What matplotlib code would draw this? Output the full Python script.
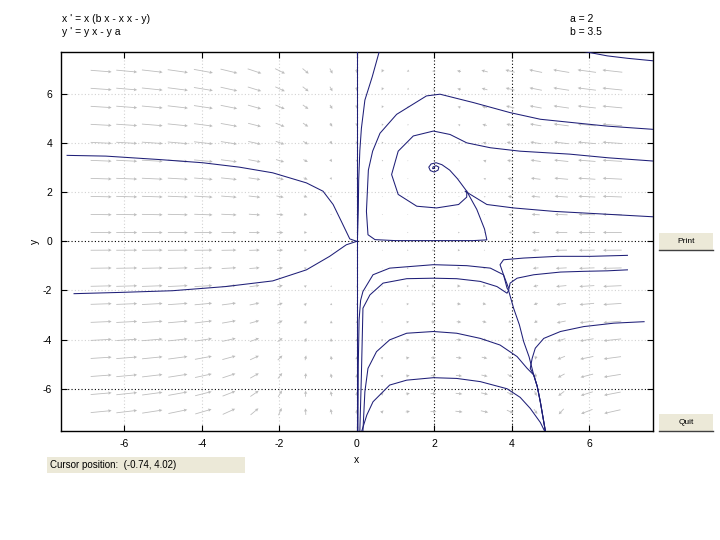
import matplotlib.pyplot as plt
import numpy as np
from matplotlib.patches import Rectangle

# parameters shown on the chart
a = 2
b = 3.5

xlim = (-7.65, 7.65)
ylim = (-7.72, 7.72)
ticks = [-6, -4, -2, 0, 2, 4, 6]

# direction field sample points
arrow_cols = [-6.6, -5.94, -5.28, -4.62, -3.96, -3.3, -2.64, -1.98, -1.32, -0.66, 0.0,
              0.66, 1.32, 1.98, 2.64, 3.3, 3.96, 4.62, 5.28, 5.94, 6.6]
arrow_rows = [-6.93, -6.2, -5.47, -4.74, -4.01, -3.28, -2.55, -1.82, -1.09, -0.36,
              0.36, 1.09, 1.82, 2.55, 3.28, 4.01, 4.74, 5.47, 6.2, 6.93]

# solution curves
left_up_x = [-7.48, -6.48, -5.1, -3.98, -3.03, -2.17, -1.3, -0.87, -0.61, -0.4, -0.18, 0.0]
left_up_y = [3.5, 3.47, 3.33, 3.2, 3.02, 2.79, 2.38, 2.04, 1.5, 0.82, 0.1, 0.0]

left_low_x = [-7.3, -6.14, -4.76, -3.38, -2.17, -1.3, -0.7, -0.27, 0.0]
left_low_y = [-2.13, -2.08, -2.01, -1.84, -1.61, -1.16, -0.61, -0.14, 0.0]

yaxis_up_x = [0.0, 0.0]
yaxis_up_y = [7.72, 0.0]
yaxis_low_x = [0.0, 0.0]
yaxis_low_y = [-7.72, 0.0]

near_axis_x = [0.58, 0.4, 0.21, 0.12, 0.08, 0.05, 0.04, 0.02]
near_axis_y = [7.72, 6.7, 5.75, 4.6, 3.7, 2.5, 1.27, 0.2]

big_x = [7.65, 6.47, 5.6, 4.74, 3.96, 3.01, 2.15, 1.8, 1.03, 0.6, 0.41, 0.3, 0.25, 0.29,
         0.47, 1.0, 2.0, 3.0, 3.36, 3.3, 3.1, 2.84, 2.6, 2.4, 2.2, 2.05, 1.92, 1.86, 1.9,
         2.0, 2.1, 2.12, 2.05, 1.97, 1.96, 2.01]
big_y = [4.56, 4.69, 4.83, 4.97, 5.24, 5.65, 5.99, 5.92, 5.17, 4.4, 3.67, 2.9, 1.22, 0.27,
         0.07, 0.03, 0.03, 0.03, 0.06, 0.5, 1.3, 2.04, 2.55, 2.9, 3.12, 3.2, 3.15, 3.02, 2.88,
         2.82, 2.9, 3.02, 3.08, 3.03, 2.96, 2.97]

loop_x = [7.65, 6.5, 5.5, 4.22, 3.45, 2.84, 2.41, 1.98, 1.46, 1.07, 0.9, 1.07, 1.55, 2.06,
          2.63, 2.84, 2.84]
loop_y = [3.27, 3.4, 3.55, 3.67, 3.81, 4.01, 4.35, 4.49, 4.29, 3.67, 2.72, 1.91, 1.43, 1.36,
          1.5, 1.8, 2.04]

mid_x = [7.65, 6.5, 5.09, 4.05, 3.36, 2.8]
mid_y = [1.0, 1.1, 1.22, 1.36, 1.5, 2.04]

top_x = [5.9, 6.47, 7.0, 7.65]
top_y = [7.72, 7.55, 7.45, 7.35]

steep_x = [3.92, 4.05, 4.2, 4.31, 4.45, 4.57, 4.66, 4.74, 4.87]
steep_y = [-2.0, -2.72, -3.4, -4.08, -4.7, -5.44, -5.9, -6.53, -7.72]

c1_x = [0.03, 0.04, 0.06, 0.1, 0.16, 0.42, 0.85, 1.98, 2.84, 3.45, 3.79, 3.92]
c1_y = [-7.72, -5.0, -3.2, -2.4, -2.04, -1.36, -1.09, -0.95, -0.99, -1.09, -1.36, -1.9]

c2_x = [0.08, 0.12, 0.16, 0.34, 0.68, 1.29, 1.98, 2.58, 3.19, 3.62, 3.88, 3.92]
c2_y = [-7.72, -5.44, -2.72, -2.18, -1.7, -1.52, -1.5, -1.52, -1.63, -1.84, -2.11, -2.0]

c3_x = [0.16, 0.21, 0.29, 0.51, 0.85, 1.29, 1.98, 2.58, 3.19, 3.70, 4.14, 4.40, 4.57, 4.66, 4.74, 4.87]
c3_y = [-7.72, -6.12, -5.17, -4.49, -4.01, -3.74, -3.67, -3.74, -3.95, -4.22, -4.69, -5.17,
        -5.44, -5.9, -6.53, -7.72]

c4_x = [0.13, 0.26, 0.42, 0.85, 1.29, 1.98, 2.58, 3.19, 3.88, 4.22, 4.48, 4.74, 4.85]
c4_y = [-7.72, -7.07, -6.53, -5.85, -5.65, -5.55, -5.58, -5.71, -6.0, -6.35, -6.8, -7.37, -7.72]

r1_x = [6.99, 6.04, 5.18, 4.31, 3.79, 3.7, 3.79, 3.88, 3.92]
r1_y = [-0.57, -0.61, -0.61, -0.68, -0.75, -0.95, -1.36, -1.9, -2.0]

r2_x = [6.99, 6.47, 5.87, 5.26, 4.57, 4.14, 3.96, 3.92]
r2_y = [-1.16, -1.2, -1.22, -1.25, -1.36, -1.5, -1.7, -2.0]

r3_x = [7.42, 6.64, 5.86, 5.26, 4.83, 4.61, 4.53, 4.48, 4.57, 4.66, 4.74, 4.87]
r3_y = [-3.27, -3.33, -3.47, -3.67, -3.95, -4.35, -4.76, -5.17, -5.44, -5.9, -6.53, -7.72]

curves = [(left_up_x, left_up_y), (left_low_x, left_low_y), (yaxis_up_x, yaxis_up_y),
          (yaxis_low_x, yaxis_low_y), (near_axis_x, near_axis_y), (big_x, big_y),
          (loop_x, loop_y), (mid_x, mid_y), (top_x, top_y), (steep_x, steep_y),
          (c1_x, c1_y), (c2_x, c2_y), (c3_x, c3_y), (c4_x, c4_y),
          (r1_x, r1_y), (r2_x, r2_y), (r3_x, r3_y)]

dark_grid_x = [0, 2, 4]
dark_grid_y = [0, -6]
faint_grid_x = [-6, -4, -2, 6]
faint_grid_y = [-4, -2, 2, 4, 6]

plt.rcParams['font.family'] = ['Liberation Sans', 'DejaVu Sans']
plt.rcParams['axes.unicode_minus'] = False

fig = plt.figure(figsize=(7.2, 5.4), dpi=100)
ax = fig.add_axes([60.5 / 720, 1 - 431 / 540, 592.5 / 720, 379.3 / 540])
ax.set_xlim(*xlim)
ax.set_ylim(*ylim)

# grid
for gx in faint_grid_x:
    ax.axvline(gx, color='#d2d2d2', lw=0.8, ls=(0, (1, 2)), zorder=1)
for gy in faint_grid_y:
    ax.axhline(gy, color='#d2d2d2', lw=0.8, ls=(0, (1, 2)), zorder=1)
for gx in dark_grid_x:
    ax.axvline(gx, color='black', lw=0.8, ls=(0, (1, 2)), zorder=1)
for gy in dark_grid_y:
    ax.axhline(gy, color='black', lw=0.8, ls=(0, (1, 2)), zorder=1)

# vector field (light gray arrows)
X, Y = np.meshgrid(arrow_cols, arrow_rows)
U = X * (b * X - X * X - Y)
V = Y * X - Y * a
ppx = 592.5 / (xlim[1] - xlim[0])
ppy = 379.3 / (ylim[1] - ylim[0])
PU, PV = U * ppx, V * ppy
n = np.hypot(PU, PV)
n[n == 0] = 1
mag = np.hypot(U, V)
lp = 21 * (1 - np.exp(-mag / 60))
ax.quiver(X, Y, PU / n * lp / ppx, PV / n * lp / ppy, angles='xy', scale_units='xy',
          scale=1, pivot='mid', color='#bdbdbd', width=0.0014, headwidth=4,
          headlength=4, headaxislength=3.5, zorder=2)

for cx, cy in curves:
    ax.plot(cx, cy, color='#1f1f78', lw=0.75, zorder=3)

ax.set_xticks(ticks)
ax.set_yticks(ticks)
ax.tick_params(direction='in', length=4, labelsize=7.5, top=True, right=True,
               labeltop=False, labelright=False, pad=6)
for s in ax.spines.values():
    s.set_linewidth(1.0)
ax.set_xlabel('x', fontsize=7.5, labelpad=4)
ax.set_ylabel('y', fontsize=7.5, labelpad=2)

# header texts
fig.text(62 / 720, 1 - 19 / 540, "x ' = x (b x - x x - y)", fontsize=7.5, va='center')
fig.text(62 / 720, 1 - 32 / 540, "y ' = y x - y a", fontsize=7.5, va='center')
fig.text(570 / 720, 1 - 19 / 540, "a = 2", fontsize=7.5, va='center')
fig.text(570 / 720, 1 - 32 / 540, "b = 3.5", fontsize=7.5, va='center')

# buttons and status box
for y0, label in [(250, 'Print'), (431, 'Quit')]:
    fig.patches.append(Rectangle((659 / 720, 1 - y0 / 540), 54 / 720, 17 / 540,
                                 transform=fig.transFigure, facecolor='#ece9d8',
                                 edgecolor='none'))
    fig.lines.append(plt.Line2D([659 / 720, 713 / 720], [1 - y0 / 540, 1 - y0 / 540],
                                transform=fig.transFigure, color='#404040', lw=1))
    fig.text(686 / 720, 1 - (y0 - 8.5) / 540, label, fontsize=6, ha='center', va='center')

fig.patches.append(Rectangle((47 / 720, 1 - 473 / 540), 198 / 720, 16 / 540,
                             transform=fig.transFigure, facecolor='#ece9d8', edgecolor='none'))
fig.text(50 / 720, 1 - 465 / 540, "Cursor position:  (-0.74, 4.02)", fontsize=7, va='center')

fig.savefig('out.png', dpi=100)
